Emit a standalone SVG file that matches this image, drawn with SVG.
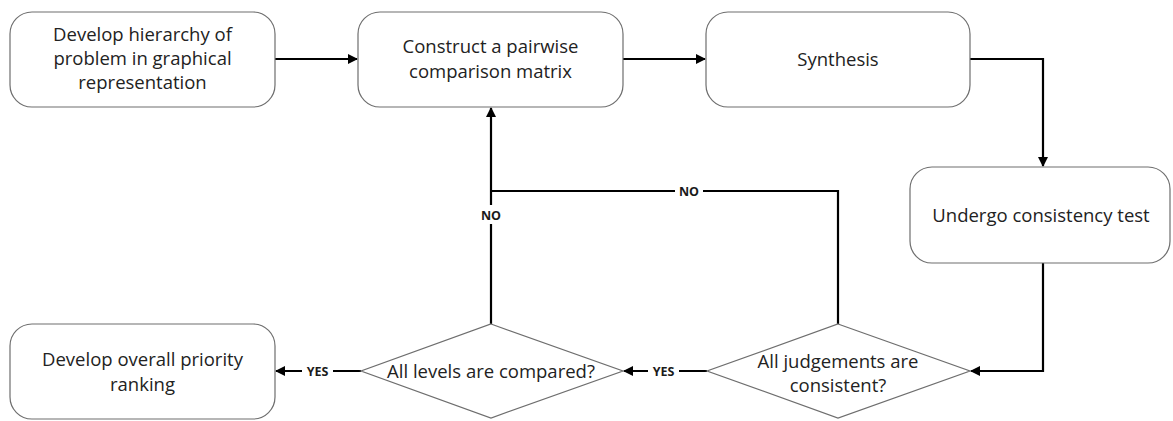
<svg xmlns="http://www.w3.org/2000/svg" width="1173" height="421" viewBox="0 0 1173 421">
  <defs>
    <marker id="arrow" markerWidth="10" markerHeight="10" refX="9" refY="5" orient="auto" markerUnits="userSpaceOnUse">
      <path d="M0,0 L10,5 L0,10 z" fill="#000"/>
    </marker>
  </defs>
  <style>
    .box { fill: #fff; stroke: #6e6e6e; stroke-width: 1.2; }
    .txt { font-family: "Open Sans", "Liberation Sans", sans-serif; font-size: 18.5px; fill: #222; text-anchor: middle; }
    .conn { fill: none; stroke: #000; stroke-width: 2.2; }
    .lbl { font-family: "Open Sans", "Liberation Sans", sans-serif; font-size: 12.5px; font-weight: bold; fill: #1a1a1a; text-anchor: middle; }
    .lblbg { fill: #fff; }
  </style>
  <rect width="1173" height="421" fill="#fff"/>

  <g id="connectors">
    <path class="conn" d="M275,59 H357" marker-end="url(#arrow)"/>
    <path class="conn" d="M623,59 H705" marker-end="url(#arrow)"/>
    <path class="conn" d="M970,59 H1043 V166" marker-end="url(#arrow)"/>
    <path class="conn" d="M1043,263 V371 H971" marker-end="url(#arrow)"/>
    <path class="conn" d="M707,371 H624" marker-end="url(#arrow)"/>
    <path class="conn" d="M361,371 H276" marker-end="url(#arrow)"/>
    <path class="conn" d="M491,324 V108" marker-end="url(#arrow)"/>
    <path class="conn" d="M838,324 V191 H491"/>
    <!-- branch labels -->
    <rect class="lblbg" x="477" y="205" width="28" height="19"/>
    <text class="lbl" x="491" y="220">NO</text>
    <rect class="lblbg" x="675" y="183" width="28" height="17"/>
    <text class="lbl" x="689" y="196">NO</text>
    <rect class="lblbg" x="648" y="363" width="31" height="17"/>
    <text class="lbl" x="663.5" y="376">YES</text>
    <rect class="lblbg" x="302" y="363" width="31" height="17"/>
    <text class="lbl" x="317.5" y="376">YES</text>
  </g>

  <g id="node-hierarchy">
    <rect class="box" x="10" y="12" width="265" height="95" rx="22"/>
    <text class="txt" x="142.5" y="41">Develop hierarchy of</text>
    <text class="txt" x="142.5" y="65">problem in graphical</text>
    <text class="txt" x="142.5" y="89">representation</text>
  </g>

  <g id="node-matrix">
    <rect class="box" x="358" y="12" width="265" height="95" rx="22"/>
    <text class="txt" x="490.5" y="53">Construct a pairwise</text>
    <text class="txt" x="490.5" y="78">comparison matrix</text>
  </g>

  <g id="node-synthesis">
    <rect class="box" x="706" y="12" width="264" height="95" rx="22"/>
    <text class="txt" x="838" y="66">Synthesis</text>
  </g>

  <g id="node-consistency-test">
    <rect class="box" x="910" y="167" width="260" height="96" rx="22"/>
    <text class="txt" x="1041" y="222">Undergo consistency test</text>
  </g>

  <g id="node-judgements">
    <polygon class="box" points="838,324 970,371 838,418 707,371"/>
    <text class="txt" x="838" y="368">All judgements are</text>
    <text class="txt" x="838" y="392">consistent?</text>
  </g>

  <g id="node-levels">
    <polygon class="box" points="491,324 623,371 491,418 361,371"/>
    <text class="txt" x="491" y="378">All levels are compared?</text>
  </g>

  <g id="node-ranking">
    <rect class="box" x="10" y="324" width="265" height="95" rx="22"/>
    <text class="txt" x="142.5" y="366">Develop overall priority</text>
    <text class="txt" x="142.5" y="391">ranking</text>
  </g>
</svg>
